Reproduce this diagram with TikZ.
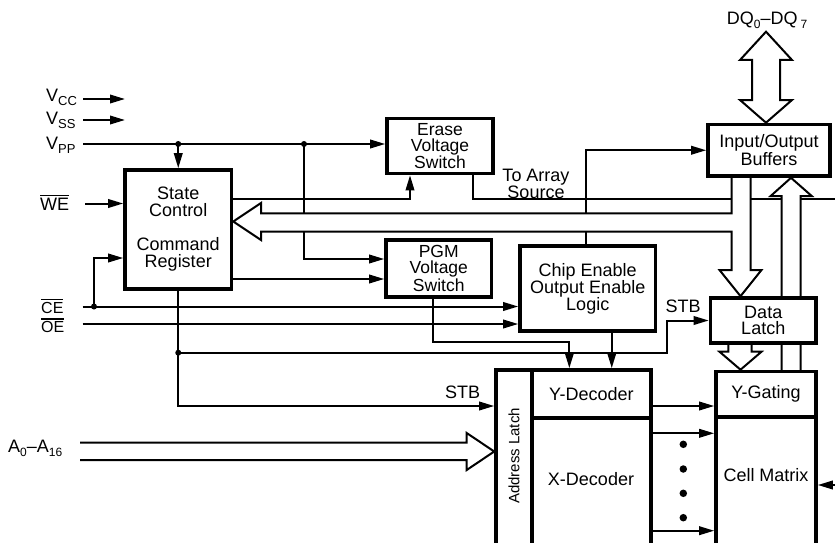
\documentclass[tikz,border=0pt]{standalone}
\usepackage{fontspec}
\setmainfont{Liberation Sans}
\usetikzlibrary{arrows.meta,backgrounds,calc}
\newcommand{\sbx}[2][13]{\raisebox{-3.5pt}{\fontsize{#1}{#1}\selectfont #2}}
\newcommand{\myovl}[1]{\leavevmode\vbox{\hrule height 1.5pt\kern 2pt\hbox{#1}}}
\begin{document}
\begin{tikzpicture}[x=1pt,y=-1pt,
  box/.style={draw,line width=3.6pt,fill=white,inner sep=0pt,align=center,font=\fontsize{18}{17}\selectfont},
  wire/.style={line width=2pt},
  arr/.style={wire,-{Triangle[length=15pt,width=8.5pt]}},
  hollow/.style={line width=2pt,fill=white,draw,line join=miter},
  lbl/.style={inner sep=0pt,font=\fontsize{18}{17}\selectfont},
  jdot/.style={circle,fill,inner sep=0pt,minimum size=6pt},
  bigdot/.style={circle,fill,inner sep=0pt,minimum size=7.5pt}]
\useasboundingbox (0,0) rectangle (835,543);
\clip (0,0) rectangle (835,543);

% ---- boxes ----
\node[box,minimum width=106.5pt,minimum height=119pt] (sc) at (178.25,229.5) {State\\Control\\[17pt]Command\\Register};
\node[box,minimum width=106pt,minimum height=55pt,font=\fontsize{17.5}{16}\selectfont] (ev) at (440,146) {Erase\\Voltage\\Switch};
\node[box,minimum width=105.5pt,minimum height=57pt,font=\fontsize{17.5}{16}\selectfont] (pgm) at (438.75,268.5) {PGM\\Voltage\\Switch};
\node[box,minimum width=135.5pt,minimum height=85pt] (ce) at (587.75,288.5) {Chip Enable\\Output Enable\\Logic};
\node[box,minimum width=122pt,minimum height=51.5pt,font=\fontsize{18}{18}\selectfont] (io) at (769,150.25) {Input/Output\\Buffers};
\node[box,minimum width=105.5pt,minimum height=45pt,font=\fontsize{18}{16.5}\selectfont] (dl) at (763.25,320.5) {Data\\Latch};
\node[box,minimum width=35.7pt,minimum height=230pt] (al) at (513.85,485) {};
\node[box,minimum width=119.3pt,minimum height=48pt] (yd) at (591.35,394) {Y-Decoder};
\node[box,minimum width=119.3pt,minimum height=182pt] (xd) at (591.35,509) {};
\node[box,minimum width=100pt,minimum height=45.5pt] (yg) at (766,394.25) {Y-Gating};
\node[box,minimum width=100pt,minimum height=183pt] (cm) at (766,508.5) {};
\node[lbl,rotate=90,font=\fontsize{15}{15}\selectfont] (alt) at (514,456) {Address Latch};
\node[lbl] (xdt) at (591,479) {X-Decoder};
\node[lbl] (cmt) at (766,475) {Cell Matrix};

% ---- labels ----
\node[lbl,anchor=base west] (vcc) at (46,101.5) {V\sbx{CC}};
\node[lbl,anchor=base west] (vss) at (46,124.5) {V\sbx{SS}};
\node[lbl,anchor=base west] (vpp) at (46,149.5) {V\sbx{PP}};
\node[lbl,anchor=base west] (we) at (40,210.7) {\myovl{WE}};
\node[lbl,anchor=base west,font=\fontsize{16}{16}\selectfont] (cel) at (41,313.3) {\myovl{CE}};
\node[lbl,anchor=base west,font=\fontsize{16}{16}\selectfont] (oel) at (41,332.7) {\myovl{OE}};
\node[lbl,anchor=base west] (alab) at (8,452.7) {A\sbx[12]{0}–A\sbx[12]{16}};
\node[lbl,anchor=base] (dq) at (767,25) {DQ\sbx[12]{0}–DQ\hspace{3pt}\sbx[12]{7}};
\node[lbl,anchor=base] (stba) at (462.5,398) {STB};
\node[lbl,anchor=base] (stbb) at (683,312) {STB};
\node[lbl,align=center,font=\fontsize{18}{16}\selectfont] (tas) at (536,184) {To Array\\Source};

% ---- coordinates ----
\coordinate (vccS) at (83,99);   \coordinate (vccE) at (125,99);
\coordinate (vssS) at (83,120);  \coordinate (vssE) at (125,120);
\coordinate (vppS) at (83,144);
\coordinate (j1) at (178.25,144);
\coordinate (j2) at (304,144);
\coordinate (weS) at (85,203.5);
\coordinate (ceS) at (82.7,306.5);
\coordinate (oeS) at (82.7,324);
\coordinate (j3) at (94,306.5);
\coordinate (j4) at (178.25,352.7);
\coordinate (asE) at (840,198.5);
\coordinate (cmR) at (840,485);

% ---- junction and ellipsis dots ----
\node[jdot] (dj1) at (j1) {};
\node[jdot] (dj2) at (j2) {};
\node[jdot] (dj3) at (j3) {};
\node[jdot] (dj4) at (j4) {};
\node[bigdot] (e1) at (683.3,444.3) {};
\node[bigdot] (e2) at (683.3,469) {};
\node[bigdot] (e3) at (683.3,493.3) {};
\node[bigdot] (e4) at (683.3,517.7) {};

\begin{scope}[on background layer]
\fill[white] (0,0) rectangle (835,543);
% thin connectors
\draw[arr] (vccS) -- (vccE);
\draw[arr] (vssS) -- (vssE);
\draw[arr] (vppS) -- (vppS -| ev.west);
\draw[arr] (j1) -- (sc.north);
\draw[arr] (j2) |- ($(pgm.west)+(0,-9.5)$);
\draw[arr] (weS) -- (weS -| sc.west);
\draw[arr] (ceS) -- (ceS -| ce.west);
\draw[arr] (j3) |- ($(sc.west)+(0,28.5)$);
\draw[arr] (oeS) -- (oeS -| ce.west);
\draw[arr] ($(sc.east)+(0,-31)$) -| ($(ev.south)+(-30,0)$);
\draw[wire] ($(ev.south)+(32.5,0)$) |- (asE);
\draw[arr] ($(sc.east)+(0,49.5)$) -- ($(pgm.west)+(0,10.5)$);
\draw[arr] ($(ce.north)+(-2,0)$) |- (io.west);
\draw[arr] ($(pgm.south)+(-5.5,0)$) |- ($(yd.north)+(-22,-26)$) -- ($(yd.north)+(-22,0)$);
\draw[arr] ($(ce.south)+(24,0)$) -- ($(yd.north)+(20.4,0)$);
\draw[arr] (sc.south) |- ($(al.west)+(0,-79)$);
\draw[arr] (j4) -| ($(dl.west)+(-42.2,0)$) -- (dl.west);
\draw[arr] ($(yd.east)+(0,12)$) -- ($(yg.west)+(0,11.75)$);
\draw[arr] ($(xd.east)+(0,-75.7)$) -- ($(cm.west)+(0,-75.2)$);
\draw[arr] ($(xd.east)+(0,21.7)$) -- ($(cm.west)+(0,22.2)$);
\draw[arr] (cmR) -- ($(cm.east)+(0,-23.5)$);
% hollow (bus) arrows
\draw[hollow] (766,31.7) -- (792,60) -- (780,60) -- (780,100) -- (792,100) -- ($(io.north)+(-3,0)$) -- (740,100) -- (752,100) -- (752,60) -- (740,60) -- cycle;
\draw[line width=2pt,line join=miter] (80,442.7) -- (466.7,442.7) -- (466.7,433) -- ($(al.west)+(0,-33.5)$) -- (466.7,470) -- (466.7,460) -- (80,460);
\filldraw[hollow] (731.7,176) -- (731.7,213.3) -- (261,213.3) -- (261,203) -- ($(sc.east)+(0,-8)$) -- (261,240) -- (261,231.7) -- (731.7,231.7) -- (731.7,270) -- (719.5,270) -- ($(dl.north)+(-22.75,0)$) -- (761.5,270) -- (750.7,270) -- (750.7,176);
\filldraw[hollow] (728.3,343) -- (728.3,351.7) -- (719.5,351.7) -- ($(yg.north)+(-25.5,0)$) -- (761.5,351.7) -- (751.7,351.7) -- (751.7,343);
\filldraw[hollow] (781.7,371.5) -- (781.7,196) -- (770.7,196) -- ($(io.south)+(22,0)$) -- (811.7,196) -- (800.5,196) -- (800.5,371.5);
\end{scope}
\end{tikzpicture}
\end{document}
